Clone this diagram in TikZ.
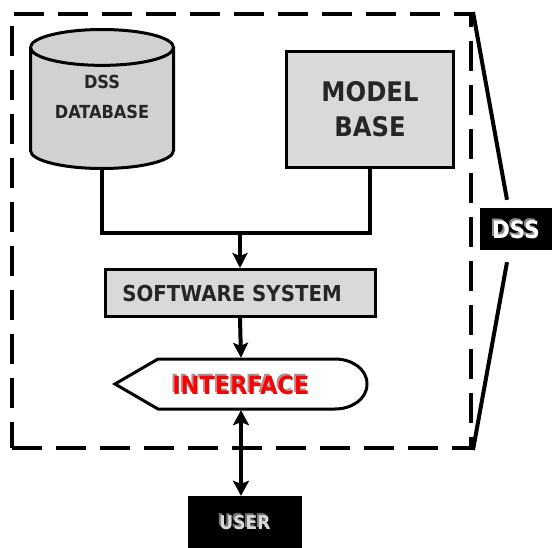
\documentclass[tikz,border=0pt]{standalone}
\usepackage{fontspec}
\setmainfont{DejaVu Sans Condensed}
\usepackage{xcolor}
\usetikzlibrary{positioning,shapes.geometric,arrows.meta,calc}

\newcommand{\shadowtxt}[3]{\makebox[0pt][l]{\kern-2pt\raisebox{2pt}{\textcolor{#1}{#3}}}\textcolor{#2}{#3}}

\tikzset{
  greybox/.style={rectangle, draw, line width=3pt, fill=black!15, inner sep=0pt, align=center, font=\bfseries, text=black!85},
  blackbox/.style={rectangle, fill=black, inner sep=0pt, align=center, font=\bfseries},
  dssframe/.style={rectangle, draw, line width=4pt, dash pattern=on 30pt off 14pt, inner sep=0pt},
  wire/.style={line width=4pt},
  arrow/.style={wire, -{Stealth[length=15pt,width=15pt,inset=3pt]}},
  twoway/.style={wire, {Stealth[length=15pt,width=16pt,inset=3pt]}-{Stealth[length=15pt,width=16pt,inset=3pt]}},
}

\begin{document}
\begin{tikzpicture}[x=1pt,y=-1pt]
\useasboundingbox (0,0) rectangle (552,548);

\node[dssframe, minimum width=459, minimum height=434] (frame) at (241.5,231) {};

\node[cylinder, shape border rotate=90, aspect=0.38, draw, line width=3pt, fill=black!18, anchor=south,
      minimum width=143, minimum height=139, inner sep=0pt, font=\bfseries\fontsize{18}{30}\selectfont, text=black!85] (db) at (102,170)
      {\raisebox{11pt}[\height][\depth]{\begin{tabular}{@{}c@{}}DSS\\DATABASE\end{tabular}}};

\node[greybox, minimum width=167, minimum height=116, font=\bfseries\fontsize{27}{35}\selectfont] (mb) at (370,109.5) {MODEL\\BASE};

\node[greybox, minimum width=270, minimum height=47, font=\bfseries\fontsize{22}{25}\selectfont] (sw) at (240,293) {SOFTWARE SYSTEM\hspace*{16pt}};

\draw[line width=3pt, fill=white] (115,384) -- (158,359) -- (335,359) to[out=0,in=90] (367,384) to[out=-90,in=0] (335,409) -- (158,409) -- cycle;
\node[minimum width=120, minimum height=52, inner sep=0pt, font=\bfseries\fontsize{25}{28}\selectfont] (iface) at (241,384) {\shadowtxt{black!40}{red}{INTERFACE}};

\node[blackbox, minimum width=114, minimum height=52, font=\bfseries\fontsize{19}{23}\selectfont] (user) at (245,522) {\shadowtxt{black!55}{black!15}{USER}};

\node[blackbox, minimum width=72, minimum height=42, font=\bfseries\fontsize{24}{27}\selectfont] (dss) at (516,229) {\shadowtxt{black!45}{white}{DSS}};

\coordinate (merge) at (240,233);
\draw[wire] (db.south) |- (merge) -| (mb.south);
\draw[arrow] (merge) -- (sw.north);
\draw[arrow] (sw.south) -- (iface.north);
\draw[twoway] (iface.south) -- (iface.south |- user.north);

\draw[wire] (frame.north east) -- ([xshift=-9pt,yshift=8pt]dss.north);
\draw[wire] ([xshift=-9pt,yshift=-12pt]dss.south) -- (frame.south east);
\end{tikzpicture}
\end{document}
